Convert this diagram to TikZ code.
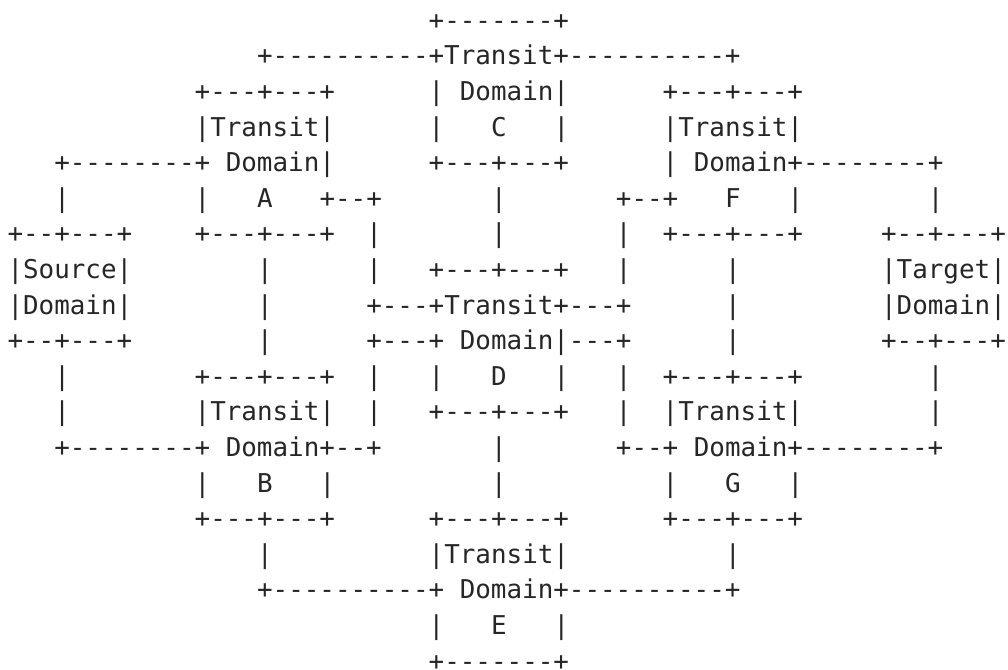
\documentclass[tikz,border=0pt]{standalone}
\usepackage{fontspec}
\setmonofont{DejaVu Sans Mono}
\definecolor{ink}{HTML}{262626}
\newcommand\atxt[4]{\node[asc] (#1) at ({7.5pt+#2*15.6pt},{-29.3pt-#3*35.6pt}) {#4};}
\tikzset{asc/.style={anchor=base west,inner sep=0pt,outer sep=0pt,text=ink,
  font=\ttfamily\fontsize{25.9}{30}\selectfont}}
\begin{document}
\begin{tikzpicture}
\fill[white] (0,0) rectangle (1008pt,-669pt);
\useasboundingbox (0,0) rectangle (1008pt,-669pt);
% row 0
\atxt{ctop}{27}{0}{+-------+}
% row 1
\atxt{cmid}{16}{1}{+----------+Transit+----------+}
% row 2
\atxt{atop}{12}{2}{+---+---+}
\atxt{cdom}{27}{2}{| Domain|}
\atxt{ftop}{42}{2}{+---+---+}
% row 3
\atxt{atr}{12}{3}{|Transit|}
\atxt{cl3}{27}{3}{|}
\atxt{clab}{31}{3}{C}
\atxt{cr3}{35}{3}{|}
\atxt{ftr}{42}{3}{|Transit|}
% row 4
\atxt{adom}{3}{4}{+--------+ Domain|}
\atxt{cbot}{27}{4}{+---+---+}
\atxt{fdom}{42}{4}{| Domain+--------+}
% row 5
\atxt{v5a}{3}{5}{|}
\atxt{v5b}{12}{5}{|}
\atxt{alab}{16}{5}{A}
\atxt{h5a}{20}{5}{+--+}
\atxt{v5c}{31}{5}{|}
\atxt{h5b}{39}{5}{+--+}
\atxt{flab}{46}{5}{F}
\atxt{v5d}{50}{5}{|}
\atxt{v5e}{59}{5}{|}
% row 6
\atxt{stop}{0}{6}{+--+---+}
\atxt{abot}{12}{6}{+---+---+}
\atxt{v6a}{23}{6}{|}
\atxt{v6b}{31}{6}{|}
\atxt{v6c}{39}{6}{|}
\atxt{fbot}{42}{6}{+---+---+}
\atxt{ttop}{56}{6}{+--+---+}
% row 7
\atxt{ssrc}{0}{7}{|Source|}
\atxt{v7a}{16}{7}{|}
\atxt{v7b}{23}{7}{|}
\atxt{dtop}{27}{7}{+---+---+}
\atxt{v7c}{39}{7}{|}
\atxt{v7d}{46}{7}{|}
\atxt{ttgt}{56}{7}{|Target|}
% row 8
\atxt{sdom}{0}{8}{|Domain|}
\atxt{v8a}{16}{8}{|}
\atxt{dtr}{23}{8}{+---+Transit+---+}
\atxt{v8b}{46}{8}{|}
\atxt{tdom}{56}{8}{|Domain|}
% row 9
\atxt{sbot}{0}{9}{+--+---+}
\atxt{v9a}{16}{9}{|}
\atxt{ddom}{23}{9}{+---+ Domain|---+}
\atxt{v9b}{46}{9}{|}
\atxt{tbot}{56}{9}{+--+---+}
% row 10
\atxt{v10a}{3}{10}{|}
\atxt{btop}{12}{10}{+---+---+}
\atxt{v10b}{23}{10}{|}
\atxt{dl}{27}{10}{|}
\atxt{dlab}{31}{10}{D}
\atxt{dr}{35}{10}{|}
\atxt{v10c}{39}{10}{|}
\atxt{gtop}{42}{10}{+---+---+}
\atxt{v10d}{59}{10}{|}
% row 11
\atxt{v11a}{3}{11}{|}
\atxt{btr}{12}{11}{|Transit|}
\atxt{v11b}{23}{11}{|}
\atxt{dbot}{27}{11}{+---+---+}
\atxt{v11c}{39}{11}{|}
\atxt{gtr}{42}{11}{|Transit|}
\atxt{v11d}{59}{11}{|}
% row 12
\atxt{bdom}{3}{12}{+--------+ Domain+--+}
\atxt{v12a}{31}{12}{|}
\atxt{gdom}{39}{12}{+--+ Domain+--------+}
% row 13
\atxt{bl}{12}{13}{|}
\atxt{blab}{16}{13}{B}
\atxt{br}{20}{13}{|}
\atxt{v13a}{31}{13}{|}
\atxt{gl}{42}{13}{|}
\atxt{glab}{46}{13}{G}
\atxt{gr}{50}{13}{|}
% row 14
\atxt{bbot}{12}{14}{+---+---+}
\atxt{etop}{27}{14}{+---+---+}
\atxt{gbot}{42}{14}{+---+---+}
% row 15
\atxt{v15a}{16}{15}{|}
\atxt{etr}{27}{15}{|Transit|}
\atxt{v15b}{46}{15}{|}
% row 16
\atxt{edom}{16}{16}{+----------+ Domain+----------+}
% row 17
\atxt{el}{27}{17}{|}
\atxt{elab}{31}{17}{E}
\atxt{er}{35}{17}{|}
% row 18
\atxt{ebot}{27}{18}{+-------+}
\end{tikzpicture}
\end{document}
